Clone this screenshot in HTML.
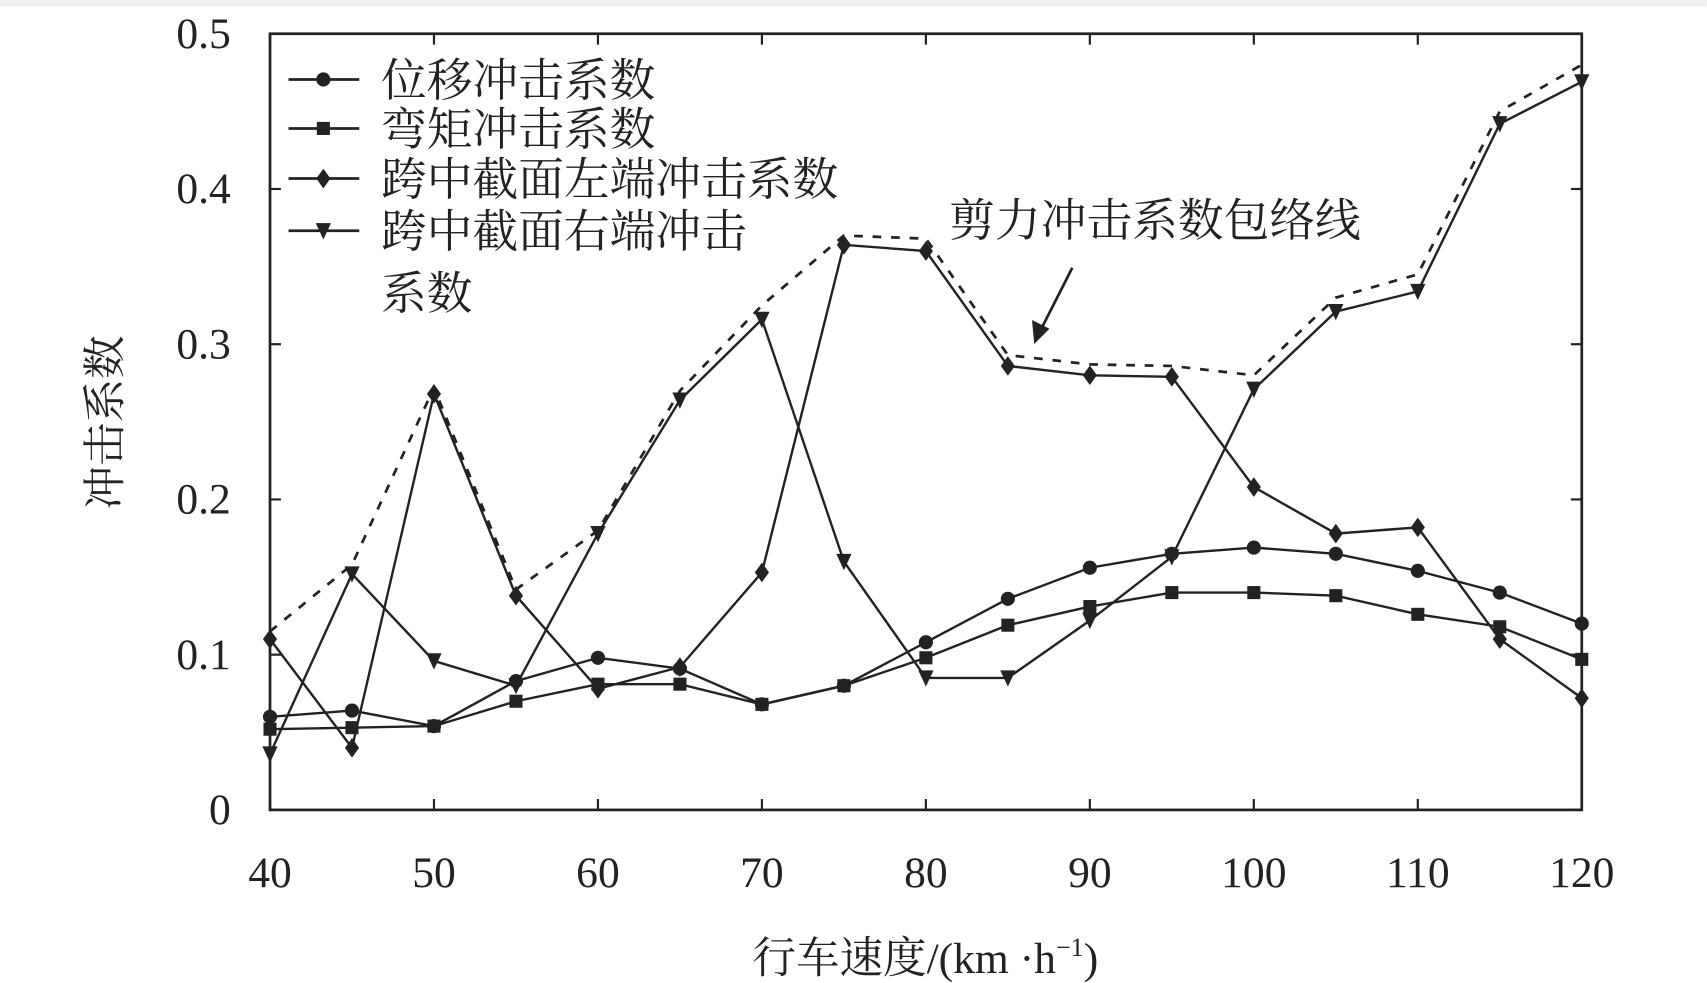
<!DOCTYPE html>
<html><head><meta charset="utf-8"><style>
html,body{margin:0;padding:0;background:#fff;}
svg{display:block;}
text{fill:#222;}
.serif{font-family:"Liberation Serif","Noto Serif CJK SC",serif;}
.cjk{font-family:"Liberation Serif","Noto Serif CJK SC","Noto Sans CJK SC",serif;}
</style></head><body>
<svg id="chart" width="1707" height="983" viewBox="0 0 1568 903" xmlns="http://www.w3.org/2000/svg">
<rect x="0" y="0" width="1568" height="6" fill="#efefef"/>
<g id="axes"></g>
<g id="series"></g>
<g id="legend"></g>
<text class="cjk" x="850" y="894" font-size="40" text-anchor="middle">行车速度/(km ·h<tspan font-size="24" dy="-16">−1</tspan><tspan dy="16">)</tspan></text>
<text class="cjk" x="0" y="0" font-size="40" text-anchor="middle" transform="translate(110,388) rotate(-90)">冲击系数</text>
<text class="cjk" x="872" y="217" font-size="42">剪力冲击系数包络线</text>
<g>
<line x1="985" y1="246" x2="956" y2="303" stroke="#222" stroke-width="2.5"/>
<polygon points="950,316 948,294 964,302" fill="#222"/>
</g>
</svg>
<script>
const speeds=[40,45,50,55,60,65,70,75,80,85,90,95,100,105,110,115,120];
const displacement=[0.06,0.064,0.054,0.083,0.098,0.091,0.068,0.08,0.108,0.136,0.156,0.165,0.169,0.165,0.154,0.14,0.12];
const moment=[0.052,0.053,0.054,0.07,0.081,0.081,0.068,0.08,0.098,0.119,0.131,0.14,0.14,0.138,0.126,0.118,0.097];
const leftShear=[0.11,0.04,0.268,0.138,0.078,0.092,0.153,0.364,0.36,0.286,0.28,0.279,0.208,0.178,0.182,0.11,0.072];
const rightShear=[0.036,0.152,0.096,0.08,0.178,0.264,0.316,0.16,0.085,0.085,0.122,0.163,0.271,0.321,0.334,0.442,0.469];
const envelope=[0.115,0.158,0.272,0.142,0.18,0.27,0.325,0.37,0.368,0.293,0.287,0.286,0.28,0.33,0.345,0.45,0.48];
const xTicks=[40,50,60,70,80,90,100,110,120];
const yTicks=[0,0.1,0.2,0.3,0.4,0.5];
const yTickLabels=["0","0.1","0.2","0.3","0.4","0.5"];

const NS="http://www.w3.org/2000/svg";
const X0=248,X1=1453,Y0=744,Y1=31;
const sx=v=>X0+(v-40)/(120-40)*(X1-X0);
const sy=v=>Y0-(v-0)/(0.5)*(Y0-Y1);
function mk(tag,attrs,parent){const e=document.createElementNS(NS,tag);for(const k in attrs)e.setAttribute(k,attrs[k]);parent.appendChild(e);return e;}
const axes=document.getElementById('axes');
const frame=mk('rect',{x:X0,y:Y1,width:X1-X0,height:Y0-Y1,fill:'none',stroke:'#222','stroke-width':2.5},axes);


xTicks.forEach(t=>{
  const x=sx(t);
  const a=mk('line',{x1:x,y1:Y0,x2:x,y2:Y0-10,stroke:'#222','stroke-width':2},axes);
  
  
  const b=mk('line',{x1:x,y1:Y1,x2:x,y2:Y1+10,stroke:'#222','stroke-width':2},axes);
  
  
  const l=mk('text',{x:x,y:815,'font-size':40,'text-anchor':'middle',class:'serif'},axes);
  l.textContent=t;
  
  
});
yTicks.forEach((t,i)=>{
  const y=sy(t);
  const a=mk('line',{x1:X0,y1:y,x2:X0+10,y2:y,stroke:'#222','stroke-width':2},axes);
  
  
  const b=mk('line',{x1:X1,y1:y,x2:X1-10,y2:y,stroke:'#222','stroke-width':2},axes);
  
  
  const l=mk('text',{x:212,y:y+13,'font-size':40,'text-anchor':'end',class:'serif'},axes);
  l.textContent=yTickLabels[i];
  
  
});
function marker(kind,x,y,parent){
  let e;
  if(kind==='circle') e=mk('circle',{cx:x,cy:y,r:6.5,fill:'#222'},parent);
  else if(kind==='square') e=mk('rect',{x:x-6,y:y-6,width:12,height:12,fill:'#222'},parent);
  else if(kind==='diamond') e=mk('polygon',{points:`${x},${y-9} ${x+6.5},${y} ${x},${y+9} ${x-6.5},${y}`,fill:'#222'},parent);
  else e=mk('polygon',{points:`${x-7},${y-7} ${x+7},${y-7} ${x},${y+8}`,fill:'#222'},parent);
  return e;
}
const seriesG=document.getElementById('series');
const env=mk('polyline',{points:speeds.map((s,i)=>sx(s)+','+sy(envelope[i])).join(' '),fill:'none',stroke:'#222','stroke-width':2.5,'stroke-dasharray':'8,9'},seriesG);


const defs=[['displacement',displacement,'circle'],['moment',moment,'square'],['left-shear',leftShear,'diamond'],['right-shear',rightShear,'tri']];
defs.forEach(([name,vals,kind])=>{
  const g=mk('g',{},seriesG);
  
  
  const pl=mk('polyline',{points:speeds.map((s,i)=>sx(s)+','+sy(vals[i])).join(' '),fill:'none',stroke:'#222','stroke-width':2.2},g);
  
  
  speeds.forEach((s,i)=>{
    const m=marker(kind,sx(s),sy(vals[i]),g);
    
    
  });
});
const legend=document.getElementById('legend');
const legendItems=[['位移冲击系数','circle',73],['弯矩冲击系数','square',118],['跨中截面左端冲击系数','diamond',164],['跨中截面右端冲击','tri',212]];
legendItems.forEach(([label,kind,y])=>{
  const ln=mk('line',{x1:265,y1:y,x2:330,y2:y,stroke:'#222','stroke-width':2.5},legend);
  
  
  const m=marker(kind,297,y,legend);
  
  
  const t=mk('text',{x:350,y:y+15,'font-size':42,class:'cjk'},legend);
  t.textContent=label;
  
  
});
const t2=mk('text',{x:350,y:284,'font-size':42,class:'cjk'},legend);
t2.textContent='系数';


</script>
</body></html>
